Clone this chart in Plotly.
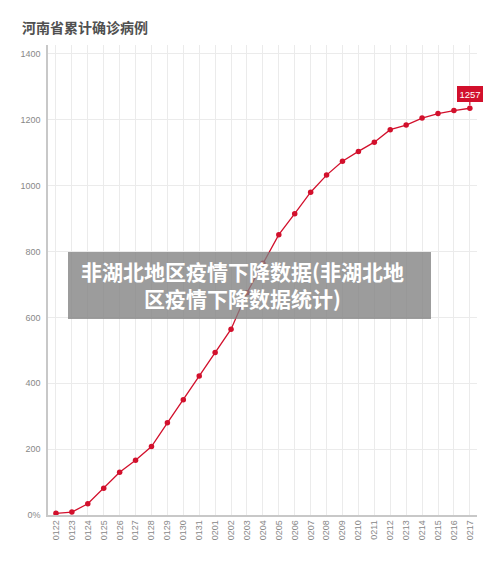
import plotly.graph_objects as go

dates = ["0122", "0123", "0124", "0125", "0126", "0127", "0128", "0129", "0130",
         "0131", "0201", "0202", "0203", "0204", "0205", "0206", "0207", "0208",
         "0209", "0210", "0211", "0212", "0213", "0214", "0215", "0216", "0217"]
cases = [5, 9, 34, 81, 130, 166, 208, 280, 350, 422, 493, 564, 675, 764, 851,
         915, 980, 1032, 1074, 1104, 1132, 1170, 1184, 1205, 1219, 1228, 1235]
y_tick_vals = [0, 200, 400, 600, 800, 1000, 1200, 1400]
y_tick_text = ["0%", "200", "400", "600", "800", "1000", "1200", "1400"]
title_text = "河南省累计确诊病例"
last_label = "1257"
overlay_text = "非湖北地区疫情下降数据(非湖北地<br>区疫情下降数据统计)"

# page body has an 8px default margin, so the figure is sized/offset accordingly
W, H = 492, 564
L, R, T, B = 40, 23, 37, 57
PW, PH = W - L - R, H - T - B
red = "#d2102c"


def px_x(page_x):
    return (page_x - 8 - L) / PW


def px_y(page_y):
    return (H - B - (page_y - 8)) / PH


fig = go.Figure()
fig.add_trace(go.Scatter(
    x=list(range(len(dates))), y=cases, mode="lines+markers",
    line=dict(color=red, width=1.3),
    marker=dict(color=red, size=5.5),
    hoverinfo="skip", showlegend=False,
))

fig.add_annotation(
    x=len(dates) - 1, y=cases[-1], xref="x", yref="y",
    text=last_label, showarrow=True, arrowhead=0, arrowwidth=1.2,
    arrowcolor=red, ax=0, ay=-14, standoff=3,
    bgcolor=red, bordercolor=red, borderpad=1.5,
    font=dict(family="Liberation Sans, Arial, sans-serif", size=9.5, color="white"),
)

fig.add_shape(
    type="rect", xref="paper", yref="paper",
    x0=px_x(68), x1=px_x(431), y0=px_y(319), y1=px_y(252),
    fillcolor="rgba(128,128,128,0.78)", line=dict(width=0), layer="above",
)
fig.add_annotation(
    x=px_x(242), y=px_y(284), xref="paper", yref="paper",
    text=overlay_text, showarrow=False, align="center",
    font=dict(family="Noto Sans CJK SC", size=21, color="white", weight="bold"),
)

fig.update_layout(
    width=W, height=H,
    margin=dict(l=L, r=R, t=T, b=B),
    paper_bgcolor="white", plot_bgcolor="white",
    title=dict(text=title_text, x=14 / W, xanchor="left", y=1 - 20 / H, yanchor="middle",
               font=dict(family="Noto Sans CJK SC", size=14, color="#505050", weight="bold")),
    xaxis=dict(
        range=[-0.5, 26.45], tickmode="array",
        tickvals=list(range(len(dates))), ticktext=dates, tickangle=-90,
        showgrid=True, gridcolor="#ebebeb", gridwidth=1, zeroline=False,
        showline=True, linecolor="#c8c8c8", linewidth=1.5,
        ticks="", ticklen=0,
        tickfont=dict(family="Liberation Sans, Arial, sans-serif", size=9, color="#888888"),
    ),
    yaxis=dict(
        range=[0, 1427], tickmode="array", tickvals=y_tick_vals, ticktext=y_tick_text,
        showgrid=True, gridcolor="#ebebeb", gridwidth=1, zeroline=False,
        showline=True, linecolor="#c8c8c8", linewidth=1.5,
        ticks="", ticklabelstandoff=4,
        tickfont=dict(family="Liberation Sans, Arial, sans-serif", size=9, color="#888888"),
    ),
)

fig.write_html("out.html")
